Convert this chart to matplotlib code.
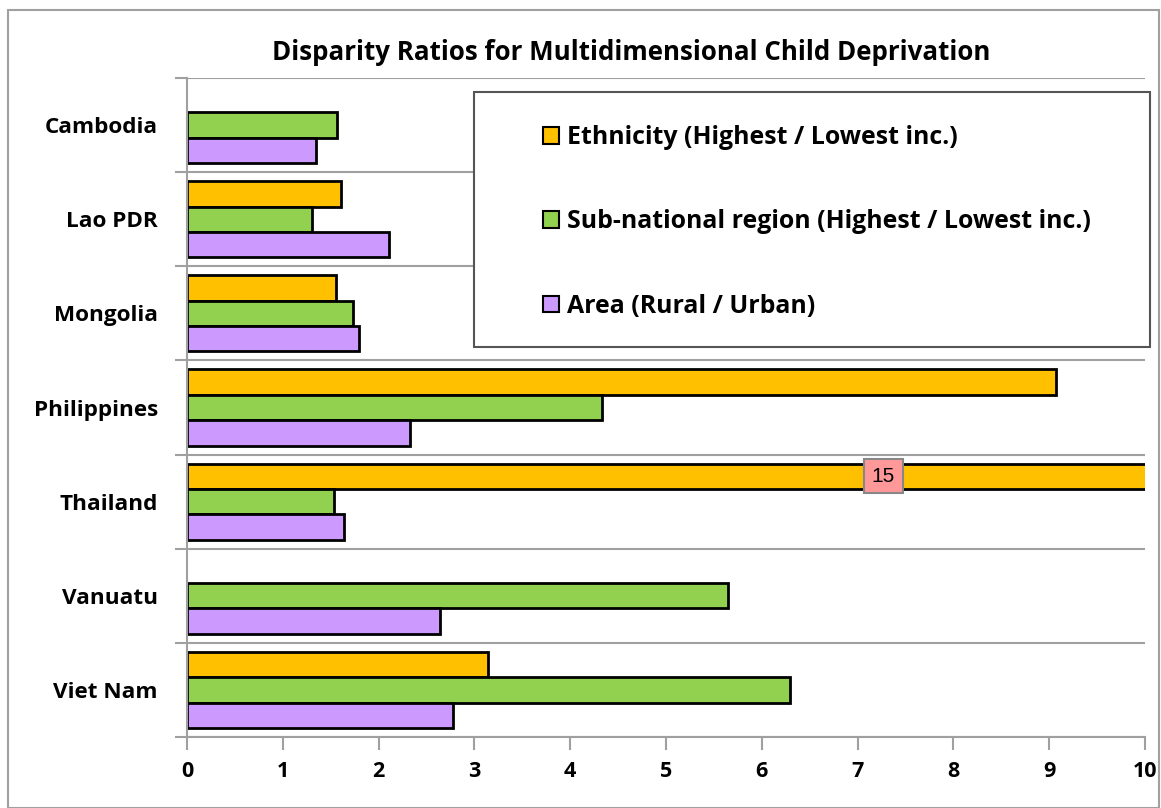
import numpy as np
import matplotlib.pyplot as plt
from matplotlib.patches import Rectangle, Patch

# Data
countries = ["Cambodia", "Lao PDR", "Mongolia", "Philippines", "Thailand", "Vanuatu", "Viet Nam"]
ethnicity = [np.nan, 1.61, 1.56, 9.07, 15.0, np.nan, 3.14]
subnational = [1.57, 1.30, 1.73, 4.33, 1.53, 5.65, 6.29]
area = [1.35, 2.11, 1.80, 2.33, 1.64, 2.64, 2.78]
series_labels = ["Ethnicity (Highest / Lowest inc.)",
                 "Sub-national region (Highest / Lowest inc.)",
                 "Area (Rural / Urban)"]
colors = ["#FFC000", "#92D050", "#CC99FF"]
xticks = list(range(0, 11))

plt.rcParams['font.family'] = ['Open Sans', 'DejaVu Sans']

W, H = 1161, 808
fig = plt.figure(figsize=(W / 100, H / 100), dpi=100)
ax = fig.add_axes([187 / W, 1 - 737 / H, (1145 - 187) / W, (737 - 78) / H])

n = len(countries)
y = np.arange(n)[::-1].astype(float)  # Cambodia on top
h = 0.27
for vals, off, col in zip([ethnicity, subnational, area], [h, 0, -h], colors):
    v = np.array(vals, dtype=float)
    mask = ~np.isnan(v)
    ax.barh(y[mask] + off, v[mask], height=h, color=col, edgecolor="black", linewidth=2)

ax.set_xlim(0, 10)
ax.set_ylim(-0.5, n - 0.5)

# label for the clipped Thailand bar
thai = countries.index("Thailand")
ax.text(7.27, y[thai] + h, "%d" % ethnicity[thai], ha="center", va="center", fontsize=15,
        family="Liberation Sans",
        bbox=dict(boxstyle="square,pad=0.36", fc="#FF9999", ec="#888888", lw=1.5), zorder=5)

ax.set_xticks(xticks)
ax.set_xticklabels([str(t) for t in xticks], fontsize=15.5, fontweight="bold")
ax.set_yticks(y)
ax.set_yticklabels(countries, fontsize=16.2, fontweight="bold")
ax.set_yticks(np.arange(n + 1) - 0.5, minor=True)
ax.tick_params(axis="y", which="major", length=0, pad=21)
ax.tick_params(axis="y", which="minor", length=9, color="#A0A0A0", width=1.5)
ax.tick_params(axis="x", length=9, color="#A0A0A0", width=1.5, pad=8)
ax.grid(axis="y", which="minor", color="#A0A0A0", linewidth=1.5)
ax.set_axisbelow(True)
for s in ["top", "right"]:
    ax.spines[s].set_visible(False)
for s in ["left", "bottom"]:
    ax.spines[s].set_color("#A0A0A0")
    ax.spines[s].set_linewidth(1.5)

fig.text(631 / W, 1 - 52 / H, "Disparity Ratios for Multidimensional Child Deprivation",
         ha="center", va="center", fontsize=18.6, fontweight="bold")

# legend: frame drawn separately, entries placed inside it
fig.patches.append(Rectangle((474 / W, 1 - 347 / H), (1150 - 474) / W, (347 - 92) / H,
                             transform=fig.transFigure, facecolor="white",
                             edgecolor="#555555", linewidth=1.5, zorder=3))
handles = [Patch(facecolor=c, edgecolor="black", linewidth=1.5) for c in colors]
leg = fig.legend(handles, series_labels, loc="center left",
                 bbox_to_anchor=(543 / W, 1 - 222 / H), ncol=1,
                 prop={"size": 17.9, "weight": "bold"}, frameon=False,
                 handlelength=0.65, handleheight=0.65, handletextpad=0.3,
                 labelspacing=2.38, borderpad=0, borderaxespad=0)
leg.set_zorder(4)

# outer chart frame
fig.patches.append(Rectangle((8 / W, 0), 1151 / W, 1 - 10 / H, transform=fig.transFigure,
                             fill=False, edgecolor="#A0A0A0", linewidth=1.5))

fig.savefig("out.png", dpi=100)
